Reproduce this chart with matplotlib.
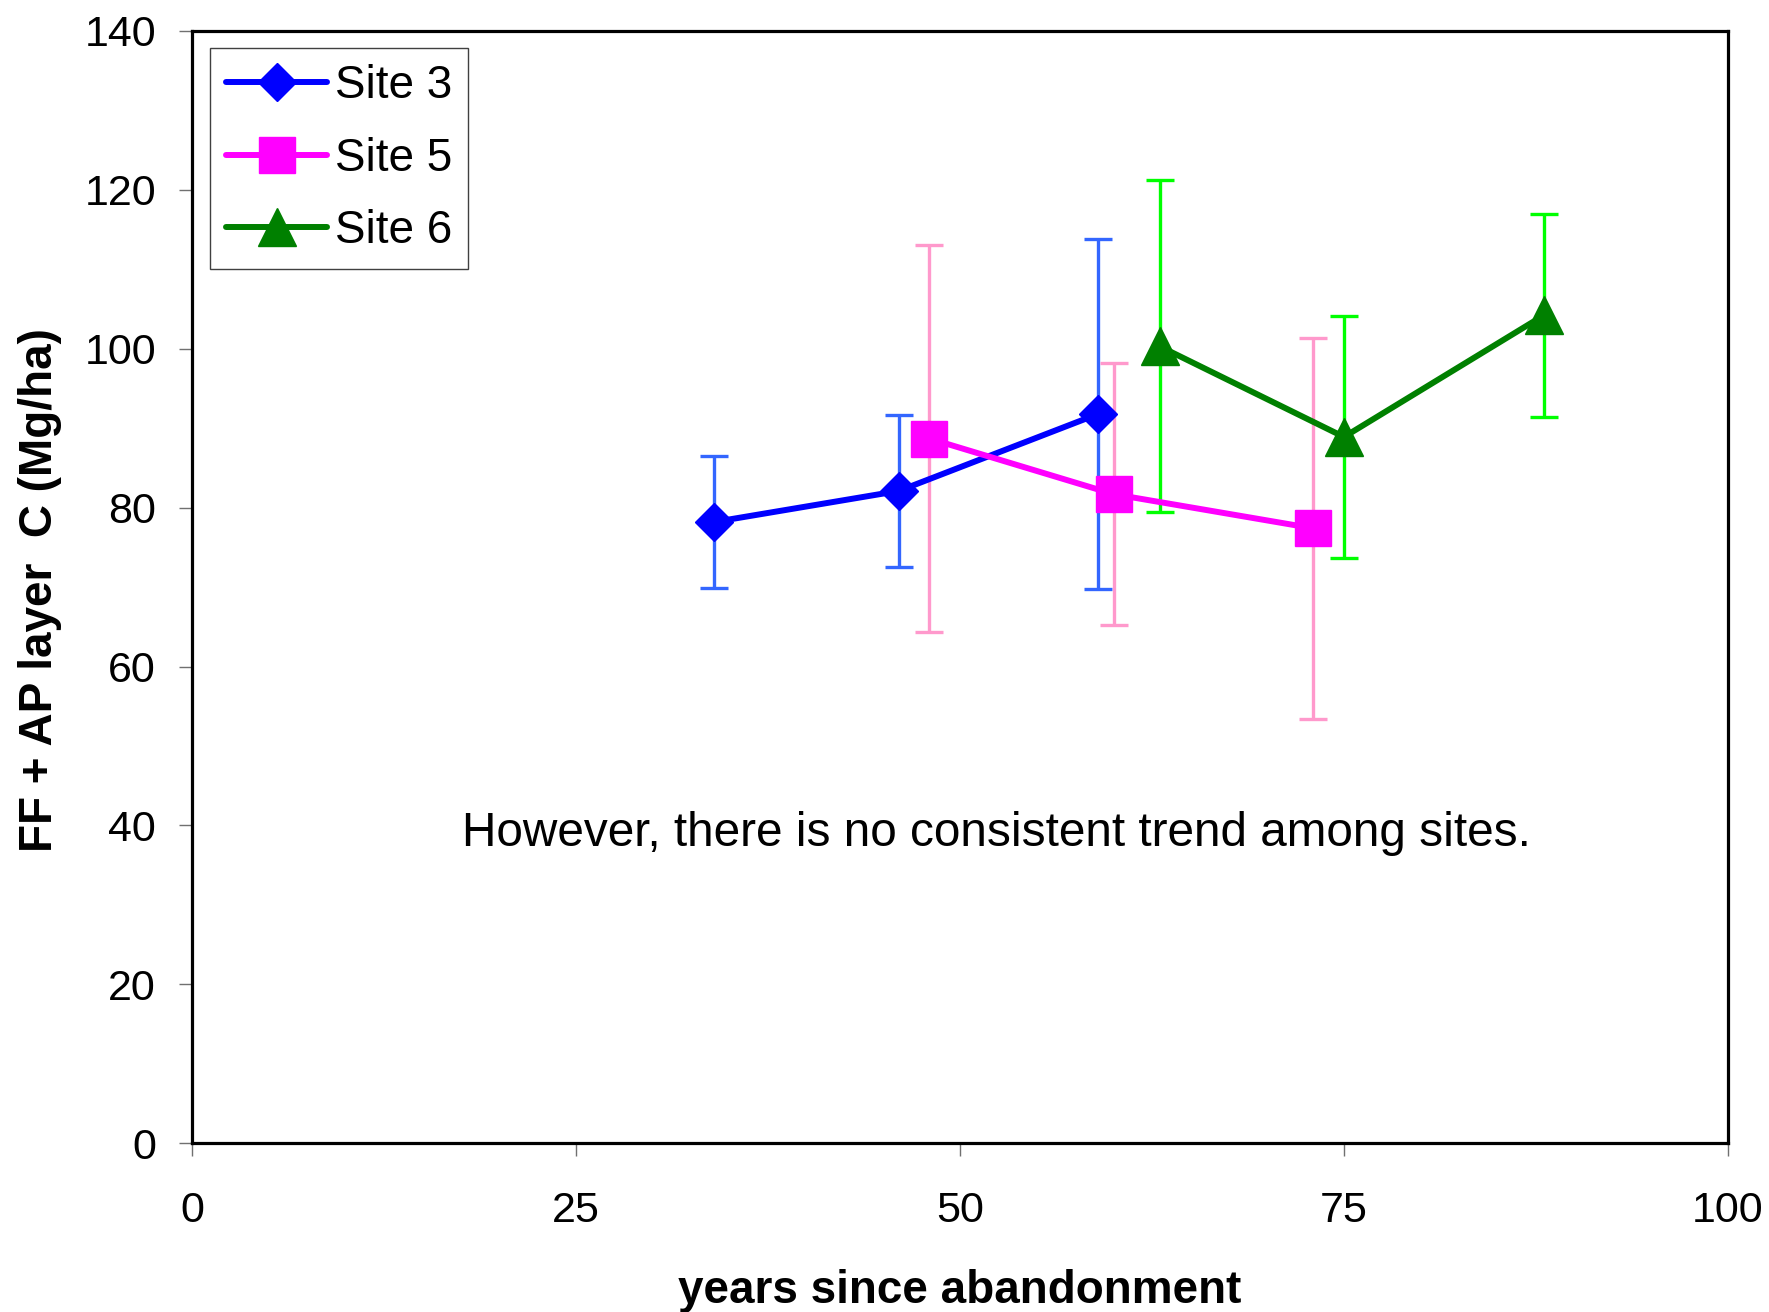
import numpy as np
import matplotlib
matplotlib.use("Agg")
import matplotlib.pyplot as plt

plt.rcParams['font.family'] = ['Liberation Sans', 'DejaVu Sans']

# --- FF + AP layer carbon per site, mean and error
years_site3 = [34, 46, 59]
carbon_site3 = [78.2, 82.1, 91.8]
err_site3 = [8.3, 9.6, 22.0]

years_site5 = [48, 60, 73]
carbon_site5 = [88.7, 81.7, 77.4]
err_site5 = [24.4, 16.5, 24.0]

years_site6 = [63, 75, 88]
carbon_site6 = [100.3, 88.9, 104.2]
err_site6 = [20.9, 15.2, 12.8]

x_ticks = [0, 25, 50, 75, 100]
y_ticks = [0, 20, 40, 60, 80, 100, 120, 140]

fig = plt.figure(figsize=(17.69, 13.12), dpi=100)
ax = fig.add_axes([0.1086, 0.1286, 0.8682, 0.8478])

# error bars first so the lines sit on top
err_kw = dict(fmt="none", elinewidth=2.4, capsize=10, capthick=2.4, zorder=2)
ax.errorbar(years_site3, carbon_site3, yerr=err_site3, ecolor="#3366FF", **err_kw)
ax.errorbar(years_site5, carbon_site5, yerr=err_site5, ecolor="#FF99CC", **err_kw)
ax.errorbar(years_site6, carbon_site6, yerr=err_site6, ecolor="#00FF00", **err_kw)

line_kw = dict(lw=4.3, solid_capstyle="round", zorder=3, mew=1)
ax.plot(years_site3, carbon_site3, "-D", color="#0000FF", ms=19, label="Site 3", **line_kw)
ax.plot(years_site5, carbon_site5, "-s", color="#FF00FF", ms=26.5, label="Site 5", **line_kw)
ax.plot(years_site6, carbon_site6, "-^", color="#008000", ms=27, label="Site 6", **line_kw)

ax.text(17.55, 37.4, "However, there is no consistent trend among sites.",
        fontsize=34.4, ha="left", va="baseline")

# --- axes styling
ax.set_xlim(0, 100)
ax.set_ylim(0, 140)
ax.set_xticks(x_ticks)
ax.set_yticks(y_ticks)
ax.tick_params(axis="both", direction="out", length=9.5, width=1.0, color="#707070",
               labelsize=31)
ax.tick_params(axis="x", pad=25)
ax.tick_params(axis="y", pad=16.5)
for sp in ax.spines.values():
    sp.set_linewidth(2.3)
    sp.set_color("black")

fig.text(0.5427, 0.0069, "years since abandonment", fontsize=33, fontweight="bold",
         ha="center", va="baseline")
fig.text(0.0225, 0.5505, "FF + AP layer  C (Mg/ha)", fontsize=33, fontweight="bold",
         rotation=90, ha="center", va="center")

leg = ax.legend(loc="upper left", bbox_to_anchor=(0.0117, 0.9843), borderaxespad=0,
                fontsize=33, handlelength=2.2, handletextpad=0.17, borderpad=0.35,
                labelspacing=0.62, fancybox=False, framealpha=1)
leg.get_frame().set_edgecolor("#404040")
leg.get_frame().set_linewidth(1.0)

plt.savefig("out.png", dpi=100)
